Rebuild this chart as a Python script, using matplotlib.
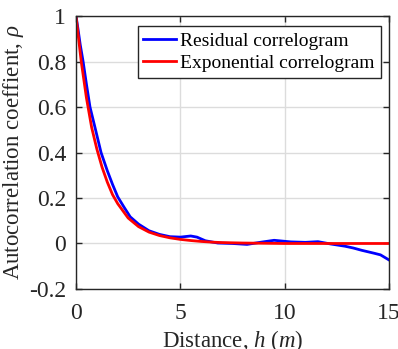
import matplotlib
matplotlib.use("Agg")
from matplotlib import pyplot as plt

#########################
# DATA
H_RESID = [0.0, 0.1, 0.2, 0.34, 0.5, 0.67, 0.91, 1.2, 1.5, 1.75, 2.0, 2.3, 2.6,
           3.0, 3.5, 4.0, 4.5, 5.0, 5.5, 5.8, 6.2, 6.8, 7.5, 8.2, 8.9, 9.5,
           10.3, 11.0, 11.6, 12.2, 12.9, 13.3, 13.7, 14.3, 14.6, 15.0]
RHO_RESID = [1.0, 0.94, 0.875, 0.80, 0.70, 0.60, 0.51, 0.40, 0.32, 0.26, 0.205, 0.16, 0.117,
             0.085, 0.056, 0.040, 0.030, 0.028, 0.033, 0.028, 0.012, 0.002, 0.0, -0.004, 0.006, 0.014,
             0.007, 0.005, 0.008, -0.002, -0.012, -0.02, -0.03, -0.043, -0.05, -0.072]

H_EXP = [0.0, 0.25, 0.5, 0.75, 1.0, 1.25, 1.5, 1.75, 2.0, 2.5, 3.0, 3.5, 4.0,
         4.5, 5.0, 5.5, 6.0, 6.5, 7.0, 8.0, 9.0, 10.0, 12.0, 15.0]
RHO_EXP = [1.0, 0.80, 0.64, 0.51, 0.415, 0.335, 0.27, 0.215, 0.175, 0.112, 0.074, 0.05, 0.035,
           0.025, 0.018, 0.013, 0.009, 0.006, 0.004, 0.002, 0.001, 0.0, 0.0, 0.0]

X_TICKS = [0, 5, 10, 15]
Y_TICKS = [-0.2, 0, 0.2, 0.4, 0.6, 0.8, 1]
Y_TICK_LABELS = ["-0.2", "0", "0.2", "0.4", "0.6", "0.8", "1"]

#########################
# STYLE
plt.rcParams["font.family"] = ["Liberation Serif", "DejaVu Serif"]
plt.rcParams["mathtext.fontset"] = "custom"
plt.rcParams["mathtext.rm"] = "Liberation Serif"
plt.rcParams["mathtext.it"] = "Liberation Serif:italic"
AX_COLOR = "#262626"

fig = plt.figure(figsize=(3.98, 3.49), dpi=100)
ax = fig.add_axes([0.191, 0.172, 0.786, 0.782])

ax.plot(H_RESID, RHO_RESID, color="#0000ff", lw=2, label="Residual correlogram")
ax.plot(H_EXP, RHO_EXP, color="#ff0000", lw=2, label="Exponential correlogram")

ax.set_xlim(0, 15)
ax.set_ylim(-0.2, 1)
ax.set_xticks(X_TICKS)
ax.set_xticklabels([str(t) for t in X_TICKS])
ax.set_yticks(Y_TICKS)
ax.set_yticklabels(Y_TICK_LABELS)

ax.grid(True, color="#dcdcdc", lw=1)
ax.set_axisbelow(True)
ax.tick_params(direction="in", length=4, width=1, labelsize=17, colors=AX_COLOR,
               top=True, right=True)
ax.tick_params(axis="x", pad=10)
ax.tick_params(axis="y", pad=7)
for s in ax.spines.values():
    s.set_color(AX_COLOR)
    s.set_linewidth(1)

ax.set_xlabel(r"Distance, $h\ (m)$", fontsize=16.5, color=AX_COLOR, labelpad=3)
ax.set_ylabel(r"Autocorrelation coeffient, $\rho$", fontsize=16.5, color=AX_COLOR, labelpad=2)

leg = ax.legend(loc="upper right", bbox_to_anchor=(0.974, 0.963), fontsize=14,
                fancybox=False, framealpha=1, edgecolor=AX_COLOR, borderpad=0.3,
                handlelength=1.7, handletextpad=0.2, labelspacing=0.25, borderaxespad=0)
leg.get_frame().set_linewidth(1)

fig.savefig("out.png", dpi=100)
